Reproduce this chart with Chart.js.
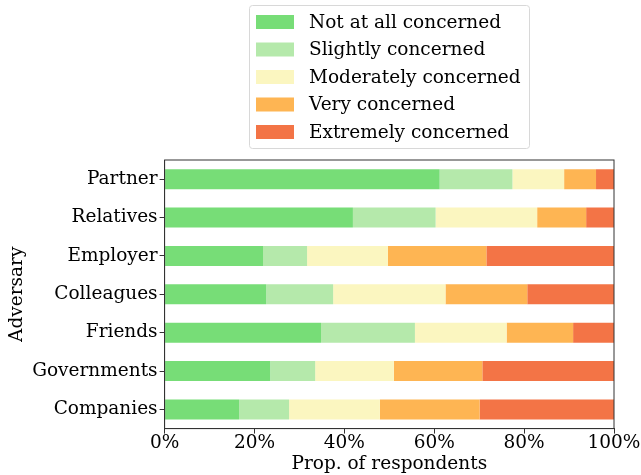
<!DOCTYPE html>
<html>
<head>
<meta charset="utf-8">
<script src="https://cdn.jsdelivr.net/npm/chart.js@4.4.1/dist/chart.umd.min.js"></script>
<style>
  body { margin: 0; background: #fff; }
  #wrap { width: 641px; height: 475px; }
</style>
</head>
<body>
<div id="wrap"><canvas id="chart" width="641" height="475"></canvas></div>
<script>
// Dati (percentuali)
const adversaries = ['Partner', 'Relatives', 'Employer', 'Colleagues', 'Friends', 'Governments', 'Companies'];
const levels = ['Not at all concerned', 'Slightly concerned', 'Moderately concerned', 'Very concerned', 'Extremely concerned'];
const levelColors = ['#77dd77', '#b5e9ab', '#fbf6c0', '#feb553', '#f37446'];

const notAtAll   = [61.2, 41.9, 21.9, 22.6, 34.8, 23.5, 16.6];
const slightly   = [16.2, 18.4,  9.8, 14.9, 20.9, 10.0, 11.1];
const moderately = [11.5, 22.6, 18.0, 25.0, 20.4, 17.5, 20.2];
const very       = [ 7.1, 10.9, 21.9, 18.2, 14.8, 19.7, 22.2];
const extremely  = [ 4.0,  6.2, 28.4, 19.3,  9.1, 29.3, 29.9];
const xTicks = [0, 20, 40, 60, 80, 100];

const series = [notAtAll, slightly, moderately, very, extremely];
const FONT = 'DejaVu Serif';
const SIZE = 18.5;

// Legenda disegnata a mano, con cornice
const boxLegend = {
    id: 'boxLegend',
    afterDraw(chart) {
        const ctx = chart.ctx;
        const area = chart.chartArea;
        const cx = (area.left + area.right) / 2;
        const w = 280, h = 143;
        const x0 = Math.round(cx - w / 2), y0 = 5;
        ctx.save();
        ctx.strokeStyle = '#d8d8d8';
        ctx.lineWidth = 1;
        ctx.fillStyle = '#fff';
        ctx.beginPath();
        ctx.roundRect(x0 + 0.5, y0 + 0.5, w, h, 3);
        ctx.fill();
        ctx.stroke();
        ctx.font = SIZE + 'px "' + FONT + '"';
        ctx.textBaseline = 'middle';
        chart.data.datasets.forEach((ds, i) => {
            const y = y0 + 17 + i * 27.5;
            ctx.fillStyle = ds.backgroundColor;
            ctx.fillRect(x0 + 7, y - 7, 38, 14);
            ctx.fillStyle = '#000';
            ctx.fillText(ds.label, x0 + 60, y + 1);
        });
        ctx.restore();
    }
};

// Cornice intorno all'area del grafico
const frame = {
    id: 'frame',
    afterDatasetsDraw(chart) {
        const a = chart.chartArea;
        const ctx = chart.ctx;
        ctx.save();
        ctx.strokeStyle = '#333';
        ctx.lineWidth = 1;
        ctx.strokeRect(a.left, a.top, a.right - a.left, a.bottom - a.top);
        ctx.restore();
    }
};

new Chart(document.getElementById('chart'), {
    type: 'bar',
    data: {
        labels: adversaries,
        datasets: levels.map((name, i) => ({
            label: name,
            data: series[i],
            backgroundColor: levelColors[i],
            borderWidth: 0,
            categoryPercentage: 1,
            barPercentage: 0.52
        }))
    },
    options: {
        indexAxis: 'y',
        responsive: false,
        animation: false,
        layout: { padding: { top: 160, right: 27, left: 6, bottom: 0 } },
        plugins: {
            legend: { display: false },
            tooltip: { enabled: false }
        },
        scales: {
            x: {
                stacked: true,
                min: 0,
                max: 100,
                afterBuildTicks: axis => { axis.ticks = xTicks.map(v => ({ value: v })); },
                grid: { drawOnChartArea: false, tickLength: 5, color: '#333' },
                border: { color: '#333' },
                ticks: {
                    color: '#000',
                    font: { family: FONT, size: SIZE },
                    padding: -1.5,
                    maxRotation: 0,
                    callback: v => v + '%'
                },
                title: {
                    display: true,
                    text: 'Prop. of respondents',
                    color: '#000',
                    font: { family: FONT, size: SIZE },
                    padding: { top: 0, bottom: 0 }
                }
            },
            y: {
                stacked: true,
                grid: { drawOnChartArea: false, tickLength: 5, color: '#333', offset: false },
                border: { color: '#333' },
                ticks: {
                    color: '#000',
                    font: { family: FONT, size: SIZE },
                    padding: 2
                },
                title: {
                    display: true,
                    text: 'Adversary',
                    color: '#000',
                    font: { family: FONT, size: SIZE },
                    padding: { top: 0, bottom: 2 }
                }
            }
        }
    },
    plugins: [frame, boxLegend]
});
</script>
</body>
</html>
